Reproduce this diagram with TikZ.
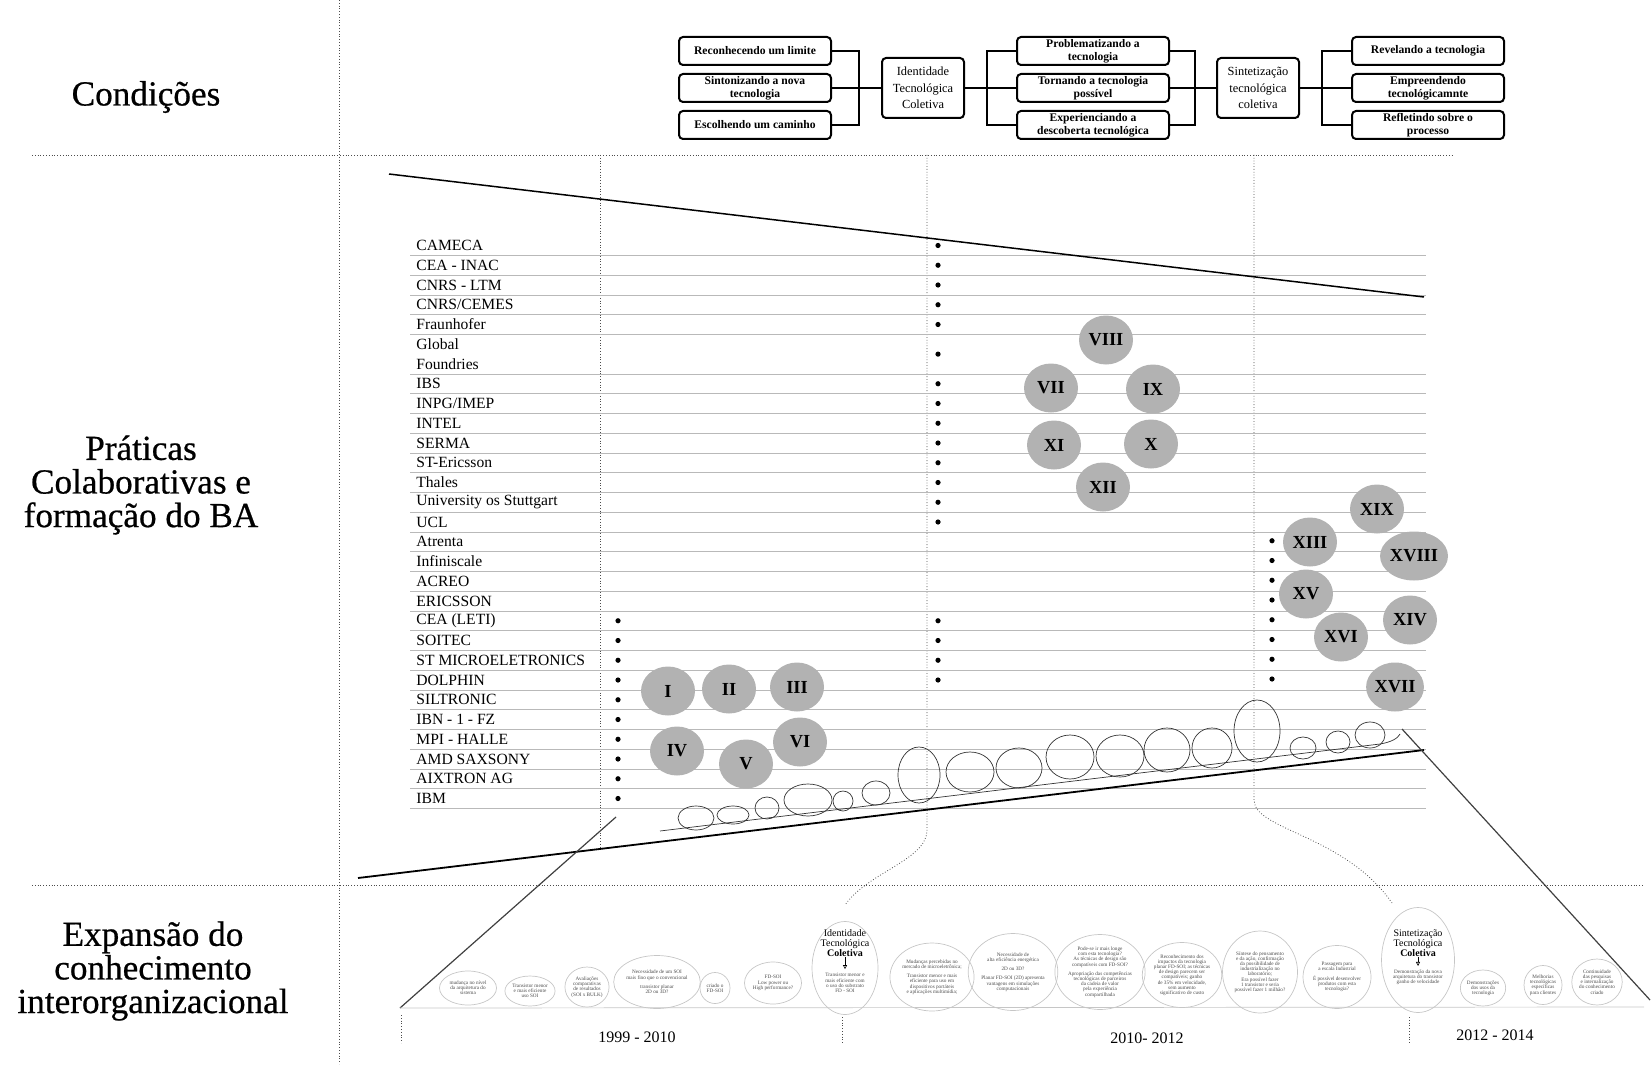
\documentclass[tikz,border=0pt]{standalone}
\usepackage{fontspec}
\setmainfont{Liberation Serif}
\newfontfamily\grossa{Liberation Serif}[FakeBold=0.6]
\usetikzlibrary{shapes.geometric,arrows.meta}

\begin{document}
\begin{tikzpicture}[x=0.5pt,y=-0.5pt,
    passo/.style={draw,line width=1pt,rounded corners=2pt,minimum width=76pt,
      minimum height=14pt,inner sep=1pt,align=center,
      font=\fontsize{5.8}{6.3}\selectfont\bfseries},
    eixo/.style={draw,line width=1pt,rounded corners=2pt,minimum width=41pt,
      minimum height=30pt,inner sep=1pt,align=center,
      font=\fontsize{6.2}{8.3}\selectfont},
    liga/.style={line width=1pt},
    titulo/.style={align=center,font=\grossa\fontsize{17.6}{16.8}\selectfont},
    org/.style={anchor=west,inner sep=0pt,font=\fontsize{7.8}{9}\selectfont},
    linha/.style={gray!55,line width=0.5pt},
    ponto/.style={fill=black,circle,inner sep=0pt,minimum size=2.6pt},
    fase/.style={ellipse,fill=gray!60,minimum width=27pt,minimum height=24.5pt,
      inner sep=0pt,font=\fontsize{9.2}{10}\selectfont\bfseries},
    grade/.style={densely dotted,gray!60!black,line width=0.4pt},
    laco/.style={line width=0.35pt,black!80},
    bolha/.style={ellipse,draw=gray!45,line width=0.35pt,inner sep=0pt,
      align=center,text=black!70,font=\fontsize{2.6}{2.6}\selectfont},
    nome/.style={align=center,inner sep=0pt,font=\fontsize{5}{5}\selectfont},
    ano/.style={font=\fontsize{8}{9}\selectfont}]

  \useasboundingbox (0,0) rectangle (1652,1064);

  % dotted frame
  \draw[grade] (339,0) -- (339,1064);
  \draw[grade] (32,155) -- (1452,155);
  \draw[grade] (32,885) -- (1644,885);
  \draw[grade] (600,155) -- (600,851);
  \draw[grade] (927,155) -- (927,830) .. controls (927,860) and (868,872) .. (845,905);
  \draw[grade] (1254,155) -- (1254,800) .. controls (1254,830) and (1345,835) .. (1392,903);
  \draw[grade] (401,1015) -- (401,1043);
  \draw[grade] (842,1017) -- (842,1043);
  \draw[grade] (1409,1017) -- (1409,1043);

  \node[titulo] (cond) at (146,97) {Condições};
  \node[titulo] (prat) at (141,485) {Práticas\\Colaborativas e\\formação do BA};
  \node[titulo] (expa) at (153,971) {Expansão do\\conhecimento\\interorganizacional};

  % the steps
  \node[passo] (rec) at (755,51) {Reconhecendo um limite};
  \node[passo] (sin) at (755,88) {Sintonizando a nova\\tecnologia};
  \node[passo] (esc) at (755,125) {Escolhendo um caminho};
  \node[eixo] (itc) at (923,88) {Identidade\\Tecnológica\\Coletiva};
  \node[passo] (pro) at (1093,51) {Problematizando a\\tecnologia};
  \node[passo] (tor) at (1093,88) {Tornando a tecnologia\\possível};
  \node[passo] (exd) at (1093,125) {Experienciando a\\descoberta tecnológica};
  \node[eixo] (stc) at (1258,88) {Sintetização\\tecnológica\\coletiva};
  \node[passo] (rev) at (1428,51) {Revelando a tecnologia};
  \node[passo] (emp) at (1428,88) {Empreendendo\\tecnológicamnte};
  \node[passo] (ref) at (1428,125) {Refletindo sobre o\\processo};

  \draw[liga] (rec.east) -- ++(27,0) |- (esc.east);
  \draw[liga] (sin.east) -- (itc.west);
  \draw[liga] (itc.east) -- (tor.west);
  \draw[liga] (pro.west) -- ++(-29,0) |- (exd.west);
  \draw[liga] (pro.east) -- ++(25,0) |- (exd.east);
  \draw[liga] (tor.east) -- (stc.west);
  \draw[liga] (stc.east) -- (emp.west);
  \draw[liga] (rev.west) -- ++(-29,0) |- (ref.west);

  % the partners
  \foreach \i in {1,...,5} \draw[linha] (410,{255.7+(\i-1)*19.75}) -- (1426,{255.7+(\i-1)*19.75});
  \foreach \i in {7,...,29} \draw[linha] (410,{255.7+(\i-1)*19.75}) -- (1426,{255.7+(\i-1)*19.75});
  \foreach \org [count=\i] in {CAMECA,CEA - INAC,CNRS - LTM,CNRS/CEMES,Fraunhofer,
      Global,Foundries,IBS,INPG/IMEP,INTEL,SERMA,ST-Ericsson,Thales,
      University os Stuttgart,UCL,Atrenta,Infiniscale,ACREO,ERICSSON,CEA (LETI),
      SOITEC,ST MICROELETRONICS,DOLPHIN,SILTRONIC,IBN - 1 - FZ,MPI - HALLE,
      AMD SAXSONY,AIXTRON AG,IBM}
    \node[org] (o\i) at (416,{245.5+(\i-1)*19.75}) {\org};

  \foreach \i in {20,...,29} \node[ponto] (a\i) at (618,{245.5+(\i-1)*19.75}) {};
  \foreach \i in {1,2,3,4,5,8,9,10,11,12,13,14,15,20,21,22,23}
    \node[ponto] (b\i) at (938,{245.5+(\i-1)*19.75}) {};
  \node[ponto] (b6) at (938,{245.5+5.5*19.75}) {};
  \foreach \i in {16,...,23} \node[ponto] (c\i) at (1272,{244.5+(\i-1)*19.75}) {};

  % the coil
  \draw[laco] (660,831) -- (1380,744) .. controls (1392,742) and (1398,738) .. (1400,734);
  \draw[laco] (696,818) ellipse [x radius=18, y radius=12];
  \draw[laco] (733,815) ellipse [x radius=16, y radius=9];
  \draw[laco] (767,808) ellipse [x radius=12, y radius=11];
  \draw[laco] (808,800) ellipse [x radius=24, y radius=16];
  \draw[laco] (843,801) ellipse [x radius=10, y radius=10];
  \draw[laco] (876,793) ellipse [x radius=14, y radius=12];
  \draw[laco] (919,775) ellipse [x radius=21, y radius=28];
  \draw[laco] (970,772) ellipse [x radius=24, y radius=20];
  \draw[laco] (1019,768) ellipse [x radius=23, y radius=20];
  \draw[laco] (1070,757) ellipse [x radius=24, y radius=22];
  \draw[laco] (1120,756) ellipse [x radius=24, y radius=21];
  \draw[laco] (1167,750) ellipse [x radius=23, y radius=22];
  \draw[laco] (1212,748) ellipse [x radius=20, y radius=20];
  \draw[laco] (1257,731) ellipse [x radius=23, y radius=31];
  \draw[laco] (1303,748) ellipse [x radius=13, y radius=11];
  \draw[laco] (1338,742) ellipse [x radius=12, y radius=11];
  \draw[laco] (1370,735) ellipse [x radius=15, y radius=13];

  % the funnel
  \draw[line width=0.75pt] (389,174) -- (1424,297);
  \draw[line width=0.9pt] (358,878) -- (1424,750);
  \draw[line width=0.6pt,black!75] (400,1008) -- (616,817);
  \draw[line width=0.6pt,black!75] (1402,729) -- (1650,1000);

  % the phases
  \node[fase] (f1) at (668,691) {I};
  \node[fase] (f2) at (729,689) {II};
  \node[fase] (f3) at (797,687) {III};
  \node[fase] (f4) at (677,751) {IV};
  \node[fase] (f5) at (746,764) {V};
  \node[fase] (f6) at (800,742) {VI};
  \node[fase] (f7) at (1051,388) {VII};
  \node[fase] (f8) at (1106,340) {VIII};
  \node[fase] (f9) at (1153,389) {IX};
  \node[fase] (f10) at (1151,444) {X};
  \node[fase] (f11) at (1054,445) {XI};
  \node[fase] (f12) at (1103,487) {XII};
  \node[fase] (f13) at (1310,542) {XIII};
  \node[fase] (f14) at (1410,620) {XIV};
  \node[fase] (f15) at (1306,594) {XV};
  \node[fase] (f16) at (1341,637) {XVI};
  \node[fase] (f17) at (1395,687) {XVII};
  \node[fase] (f18) at (1414,556) {XVIII};
  \node[fase] (f19) at (1377,509) {XIX};

  % the knowledge chain
  \draw[gray!45,line width=0.35pt] (400,1008) -- (1644,1007);
  \node[bolha,minimum width=28.5pt,minimum height=17pt] (e1) at (468,988)
    {mudança no nível\\da arquitetura do\\sistema};
  \node[bolha,minimum width=23pt,minimum height=15pt] (e2) at (530,991)
    {Transistor menor\\e mais eficiente\\uso SOI};
  \node[bolha,minimum width=20pt,minimum height=20pt] (e3) at (587,987)
    {Avaliações\\comparativas\\de resultados\\(SOI x BULK)};
  \node[bolha,minimum width=41pt,minimum height=26.5pt] (e4) at (657,982)
    {Necessidade de um SOI\\mais fino que o convencional\\[2pt]transistor planar\\2D ou 3D?};
  \node[bolha,minimum width=15pt,minimum height=15.5pt] (e5) at (715,988)
    {criado o\\FD-SOI};
  \node[bolha,minimum width=28.5pt,minimum height=21pt] (e6) at (773,983)
    {FD-SOI\\Low power ou\\High performance?};
  \node[bolha,minimum width=33pt,minimum height=46.5pt] (e7) at (845,968) {};
  \node[nome] (t7) at (845,943) {Identidade\\Tecnológica\\\textbf{Coletiva}};
  \node[bolha,draw=none] (c7) at (845,983)
    {Transistor menor e\\mais eficiente com\\o uso do substrato\\FD - SOI};
  \draw[-{Triangle[open,length=2pt,width=2pt]},line width=0.3pt] (t7.south) -- (c7.north);
  \node[bolha,minimum width=40pt,minimum height=34pt] (e8) at (932,977)
    {Mudanças percebidas no\\mercado de microeletrônica;\\[2pt]Transistor menor e mais\\eficiente para uso em\\dispositivos portáteis\\e aplicações multimídia;};
  \node[bolha,minimum width=39pt,minimum height=38.5pt] (e9) at (1013,972)
    {Necessidade de\\alta eficiência energética\\[2pt]2D ou 3D?\\[2pt]Planar FD-SOI (2D) apresenta\\vantagens em simulações\\computacionais};
  \node[bolha,minimum width=41pt,minimum height=37.5pt] (e10) at (1100,972)
    {Pode-se ir mais longe\\com esta tecnologia?\\As técnicas de design são\\compatíveis com FD-SOI?\\[2pt]Apropriação das competências\\tecnológicas de parceiros\\da cadeia de valor\\pela experiência\\compartilhada};
  \node[bolha,minimum width=39pt,minimum height=32.5pt] (e11) at (1182,975)
    {Reconhecimento dos\\impactos da tecnologia\\planar FD-SOI; as técnicas\\de design parecem ser\\compatíveis; ganho\\de 35\% em velocidade,\\sem aumento\\significativo de custo};
  \node[bolha,minimum width=37.5pt,minimum height=41pt] (e12) at (1260,972)
    {Síntese do pensamento\\e da ação, confirmação\\da possibilidade de\\industrialização no\\laboratório;\\Era possível fazer\\1 transistor e seria\\possível fazer 1 milhão?};
  \node[bolha,minimum width=34pt,minimum height=31.5pt] (e13) at (1337,977)
    {Passagem para\\a escala Industrial\\[2pt]É possível desenvolver\\produtos com esta\\tecnologia?};
  \node[bolha,minimum width=36.5pt,minimum height=52.5pt] (e14) at (1418,960) {};
  \node[nome] (t14) at (1418,943) {Sintetização\\Tecnológica\\\textbf{Coletiva}};
  \node[bolha,draw=none] (c14) at (1418,977)
    {Demonstração da nova\\arquitetura do transistor\\ganho de velocidade};
  \draw[-{Triangle[open,length=2pt,width=2pt]},line width=0.3pt] (t14.south) -- (c14.north);
  \node[bolha,minimum width=20.5pt,minimum height=18pt] (e15) at (1483,988)
    {Demonstrações\\dos usos da\\tecnologia};
  \node[bolha,minimum width=19pt,minimum height=19.5pt] (e16) at (1543,985)
    {Melhorias\\tecnológicas\\específicas\\para clientes};
  \node[bolha,minimum width=23pt,minimum height=23pt] (e17) at (1597,982)
    {Continuidade\\das pesquisas\\e internalização\\do conhecimento\\criado};

  \node[ano] (p1) at (637,1037) {1999 - 2010};
  \node[ano] (p2) at (1147,1038) {2010- 2012};
  \node[ano] (p3) at (1495,1035) {2012 - 2014};
\end{tikzpicture}
\end{document}
